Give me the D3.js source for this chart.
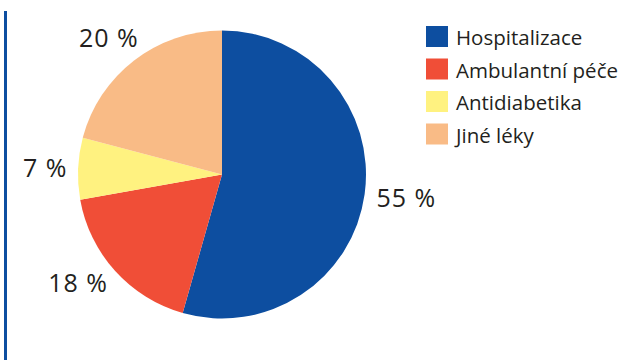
<!DOCTYPE html>
<html>
<head>
<meta charset="utf-8">
<script src="https://cdn.jsdelivr.net/npm/d3@7"></script>
<style>
  body { margin: 0; background: #fff; }
  text { font-family: "Open Sans", sans-serif; fill: #231f20; }
</style>
</head>
<body>
<svg id="svg" width="625" height="360"></svg>
<script>
// slices, clockwise from 12 o'clock
var categories = ["Hospitalizace", "Ambulantní péče", "Antidiabetika", "Jiné léky"];
var shares = [54.4, 17.8, 6.9, 20.9];       // measured from slice angles
var labels = ["55 %", "18 %", "7 %", "20 %"]; // as printed
var colors = ["#0d4ea0", "#f04e37", "#fff280", "#f9bb86"];

var svg = d3.select("#svg"),
    cx = 222, cy = 174.5, r = 144;

// hand placement of the % labels, offsets from the centroid
var nudge = [[4, -2], [-9, -14], [5, 1], [-2, 8]];

// blue rule on the left
svg.append("rect")
    .attr("x", 4).attr("y", 11)
    .attr("width", 3).attr("height", 349)
    .attr("fill", "#0d4ea0");

var data = categories.map(function (c, i) {
    return { name: c, value: shares[i], label: labels[i], color: colors[i] };
});

var pie = d3.pie().sort(null).value(function (d) { return d.value; });
var arc = d3.arc().innerRadius(0).outerRadius(r);
var labelArc = d3.arc().innerRadius(182).outerRadius(182);

var g = svg.append("g").attr("transform", "translate(" + cx + "," + cy + ")");

var arcs = pie(data);

g.selectAll("path")
    .data(arcs)
    .enter().append("path")
    .attr("d", arc)
    .attr("fill", function (d) { return d.data.color; });

g.selectAll("text.pct")
    .data(arcs)
    .enter().append("text")
    .attr("class", "pct")
    .attr("transform", function (d, i) {
        var c = labelArc.centroid(d);
        return "translate(" + (c[0] + nudge[i][0]) + "," + (c[1] + nudge[i][1]) + ")";
    })
    .attr("text-anchor", "middle")
    .attr("dy", "0.36em")
    .style("font-size", "25px")
    .style("letter-spacing", "1px")
    .text(function (d) { return d.data.label; });

// legend
var legend = svg.append("g").attr("transform", "translate(426,26)");
var row = legend.selectAll("g")
    .data(data)
    .enter().append("g")
    .attr("transform", function (d, i) { return "translate(0," + (i * 32.5) + ")"; });

row.append("rect")
    .attr("width", 22).attr("height", 21)
    .attr("fill", function (d) { return d.color; });

row.append("text")
    .attr("x", 30).attr("y", 19)
    .style("font-size", "20.5px")
    .text(function (d) { return d.name; });
</script>
</body>
</html>
